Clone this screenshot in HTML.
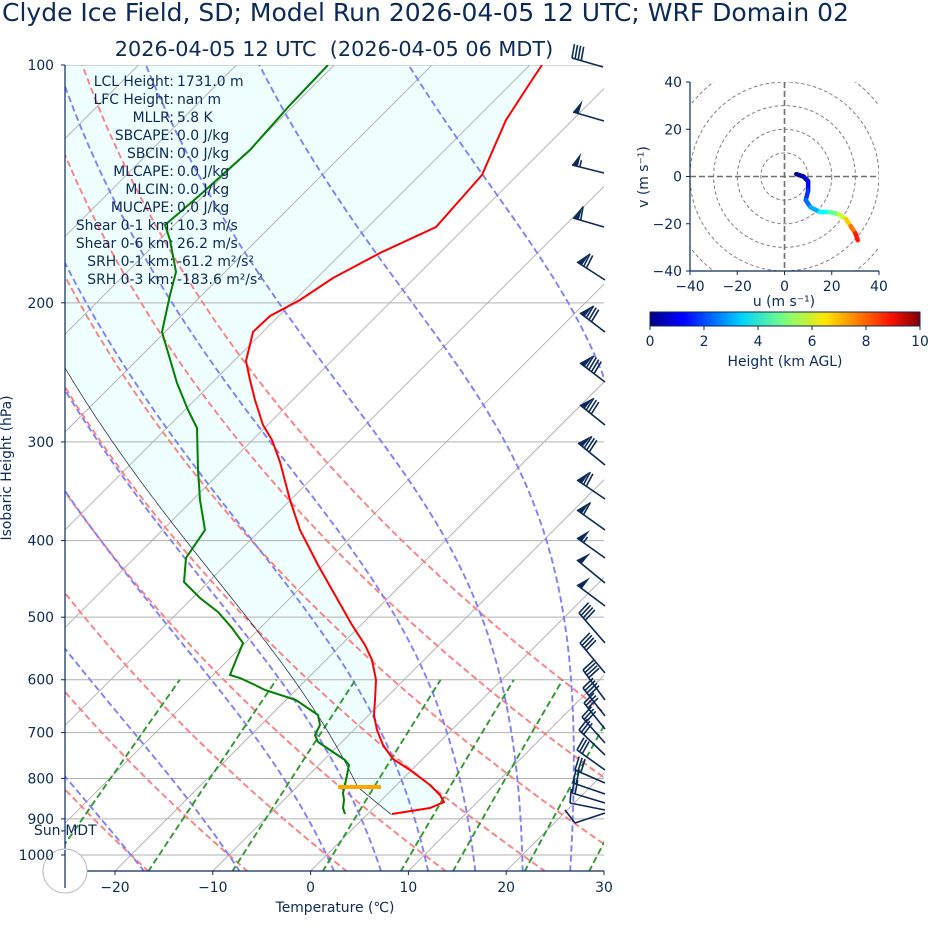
<!DOCTYPE html>
<html><head><meta charset="utf-8">
<style>
html,body{margin:0;padding:0;background:#fff;}
svg{display:block;font-family:"DejaVu Sans","Liberation Sans",sans-serif;}
</style></head>
<body>
<svg id="s" width="928" height="936" viewBox="0 0 928 936" xmlns="http://www.w3.org/2000/svg">
<defs>
<clipPath id="pc"><rect x="65" y="65" width="539" height="806"/></clipPath>
<clipPath id="hc"><rect x="690" y="82" width="189" height="189"/></clipPath>
<linearGradient id="jet" x1="0" x2="1" y1="0" y2="0">
<stop offset="0" stop-color="#00007f"/><stop offset="0.11" stop-color="#0000ff"/>
<stop offset="0.125" stop-color="#0000ff"/><stop offset="0.34" stop-color="#00d4ff"/>
<stop offset="0.5" stop-color="#7dff7a"/><stop offset="0.65" stop-color="#ffe600"/>
<stop offset="0.89" stop-color="#ff1300"/><stop offset="1" stop-color="#7f0000"/>
</linearGradient>
</defs>
<g id="plot" clip-path="url(#pc)"></g>
<g id="over"></g>
<text x="2" y="21" font-size="25" fill="#0b2a57">Clyde Ice Field, SD; Model Run 2026-04-05 12 UTC; WRF Domain 02</text>
<text x="334" y="56" font-size="20.8" fill="#0b2a57" text-anchor="middle" xml:space="preserve">2026-04-05 12 UTC  (2026-04-05 06 MDT)</text>
<g font-size="13.9" fill="#0b2a57">
<text x="335" y="912" text-anchor="middle">Temperature (℃)</text>
<text transform="translate(11,468) rotate(-90)" text-anchor="middle">Isobaric Height (hPa)</text>
<text x="34" y="835">Sun-MDT</text>
</g>
<g id="stats" font-size="13.9" fill="#0b2a57"></g>
<g id="hodo"></g>
</svg>
<script>
const NS="http://www.w3.org/2000/svg";const FS=13.9;
function el(p,t,a,txt){const e=document.createElementNS(NS,t);for(const k in a)e.setAttribute(k,a[k]);if(txt!==undefined)e.textContent=txt;p.appendChild(e);return e;}
const plot=document.getElementById('plot'),over=document.getElementById('over');
const Y=p=>65+790*Math.log10(p/100);
const X=(T,p)=>310.6+9.78*T+(871-Y(p));
function pl(g,pts,a){a.points=pts.map(q=>q[0].toFixed(1)+','+q[1].toFixed(1)).join(' ');a.fill=a.fill||'none';return el(g,'polyline',a);}
const Tpix=[[392,814],[430,808],[444,802],[440,795],[430,785],[410,770],[393,759],[383,745],[377,730],[374,715],[375,700],[376,680],[372,660],[365,645],[352,625],[335,595],[318,565],[300,530],[290,500],[280,462],[272,440],[263,425],[255,400],[250,380],[246,361],[253,332],[270,316],[300,300],[333,278],[380,253],[436,227],[482,175],[506,120],[530,83],[542,65]];
const Tdpix=[[345,814],[343,808],[344,800],[343,793],[346,780],[349,765],[345,760],[330,750],[318,742],[315,735],[320,725],[318,715],[296,700],[265,690],[255,685],[240,678],[230,675],[236,660],[243,643],[232,628],[218,612],[200,598],[184,582],[186,558],[205,530],[200,500],[198,470],[197,428],[188,410],[177,383],[162,332],[170,295],[176,272],[170,240],[165,225],[200,195],[250,150],[290,105],[328,65]];
function es(T){return 6.112*Math.exp(17.67*T/(T+243.5));}
function dTdp(T,p){const Tk=T+273.15,e=es(T),rs=0.622*e/(p-e);return (287.04*Tk+2.501e6*rs)/(p*(1005.7+2.501e6*2.501e6*rs*0.622/(287.04*Tk*Tk)));}
function moist(T0,p0,p1,step){const pts=[];let T=T0,p=p0;const dir=p1<p0?-1:1;while(dir*(p1-p)>0){pts.push([X(T,p),Y(p)]);const dp=dir*Math.min(step,Math.abs(p1-p));const k1=dTdp(T,p),k2=dTdp(T+k1*dp/2,p+dp/2);T+=k2*dp;p+=dp;}pts.push([X(T,p),Y(p)]);return pts;}
const parcel=[];
{const p0=889,T0=2.5,plcl=820;for(let p=p0;p>=plcl;p-=2){const T=(T0+273.15)*Math.pow(p/p0,0.2857)-273.15;parcel.push([X(T,p),Y(p)]);}
 const Tl=(T0+273.15)*Math.pow(plcl/p0,0.2857)-273.15;parcel.push(...moist(Tl,plcl,100,2));}
{const poly=Tpix.concat([[65,65]]).concat(parcel.slice().reverse());pl(plot,poly,{fill:'#effefe',stroke:'none'});}
for(let p=100;p<=1000;p+=100)el(plot,'line',{x1:65,x2:604,y1:Y(p),y2:Y(p),stroke:'#b0b0b0','stroke-width':1});
for(let T=-150;T<=50;T+=10)el(plot,'line',{x1:X(T,1050),y1:Y(1050),x2:X(T,100),y2:Y(100),stroke:'#b4b4b4','stroke-width':1});
const DA={'stroke-width':1.9,'stroke-dasharray':'6.5,3.5'};
for(let T0=-30;T0<=50;T0+=10){const pts=[];for(let p=1050;p>=100;p-=10){const T=(T0+273.15)*Math.pow(p/1000,0.2857)-273.15;pts.push([X(T,p),Y(p)]);}pl(plot,pts,Object.assign({stroke:'#ff8080'},DA));}
for(const T0 of [-50,-40,-30,-20,-10,0,5,10,15,20,25,30]){const up=moist(T0,1000,100,5),dn=moist(T0,1000,1050,5);pl(plot,dn.reverse().concat(up),Object.assign({stroke:'#8080ff'},DA));}
for(const w of [0.0004,0.001,0.002,0.004,0.007,0.01,0.016,0.024,0.032]){const pts=[];for(let p=1050;p>=600;p-=10){const e=p*w/(0.622+w),l=Math.log(e/6.112),Td=243.5*l/(17.67-l);pts.push([X(Td,p),Y(p)]);}pl(plot,pts,Object.assign({stroke:'#2e9a2e'},DA));}
pl(plot,parcel,{stroke:'#0b1f3a','stroke-width':0.7});
pl(plot,Tpix,{stroke:'#ff0000','stroke-width':2});
pl(plot,Tdpix,{stroke:'#008000','stroke-width':2});
el(plot,'line',{x1:338,x2:381,y1:787,y2:787,stroke:'#ffa500','stroke-width':4});
const C='#0b2a57';
function barb(bx,by,tx,ty,flags,full,half){
 const L=Math.hypot(tx-bx,ty-by),ux=(tx-bx)/L,uy=(ty-by)/L;let nx=-uy,ny=ux;if(ny>0){nx=-nx;ny=-ny;}
 el(over,'line',{x1:bx,y1:by,x2:tx,y2:ty,stroke:C,'stroke-width':1.6});
 let d=0;const bl=14,fw=6,sp=3.2;
 for(let i=0;i<flags;i++){const px=tx-ux*d,py=ty-uy*d;el(over,'polygon',{points:`${px},${py} ${px-ux*fw+nx*bl},${py-uy*fw+ny*bl} ${px-ux*fw},${py-uy*fw}`,fill:C});d+=fw+2;}
 for(let i=0;i<full;i++){const px=tx-ux*d,py=ty-uy*d;el(over,'line',{x1:px,y1:py,x2:px+nx*bl+ux*1.5,y2:py+ny*bl+uy*1.5,stroke:C,'stroke-width':1.6});d+=sp;}
 for(let i=0;i<half;i++){if(d===0)d=sp;const px=tx-ux*d,py=ty-uy*d;el(over,'line',{x1:px,y1:py,x2:px+nx*bl/2,y2:py+ny*bl/2,stroke:C,'stroke-width':1.6});d+=sp;}
}
const B=[[603,67,572,58,0,4,0],[604,121,573,112,1,0,0],[604,173,572,165,1,0,1],[604,227,573,218,1,1,0],[605,280,577,262,1,2,0],[605,332,580,313,1,3,0],[605,382,580,363,1,4,0],[605,425,580,405,1,3,0],[605,465,578,443,1,3,0],[605,499,577,480,1,2,0],[605,530,577,510,1,1,0],[605,558,577,538,1,0,1],[605,583,577,560,1,0,0],[605,606,577,585,1,0,0],[605,643,579,613,0,4,0],[605,673,580,643,0,4,0],
[605,700,583,670,0,4,0],[605,716,583,688,0,4,0],[605,729,584,703,0,3,0],[605,743,582,717,0,3,0],[605,755,579,730,0,3,0],[605,770,577,750,0,3,0],[605,783,575,770,0,3,0],[605,794,573,783,0,2,0],[605,803,572,793,0,2,0],[605,810,570,803,0,1,0],[605,813,575,823,0,0,0]];
for(const b of B)barb(...b);
el(over,'line',{x1:575,y1:823,x2:565,y2:810,stroke:C,'stroke-width':1.6});
el(over,'line',{x1:65,y1:65,x2:65,y2:888,stroke:C,'stroke-width':1.2});
el(over,'line',{x1:65,y1:871,x2:604,y2:871,stroke:C,'stroke-width':1.2});
el(over,'circle',{cx:65,cy:871,r:22,fill:'#fff',stroke:'#bbbbbb','stroke-width':1});
el(over,'line',{x1:65,y1:850,x2:65,y2:888,stroke:C,'stroke-width':1.2});
for(let p=100;p<=1000;p+=100){const y=Y(p);el(over,'line',{x1:61,x2:65,y1:y,y2:y,stroke:C,'stroke-width':1});el(over,'text',{x:54,y:y+5,'text-anchor':'end','font-size':FS,fill:C},String(p));}
for(let T=-20;T<=30;T+=10){const x=310.6+9.78*T;el(over,'line',{x1:x,x2:x,y1:871,y2:875,stroke:C,'stroke-width':1});el(over,'text',{x:x,y:892,'text-anchor':'middle','font-size':FS,fill:C},(T<0?'\u2212'+(-T):String(T)));}
const st=document.getElementById('stats');
const S=[['LCL Height:','1731.0 m'],['LFC Height:','nan m'],['MLLR:','5.8 K'],['SBCAPE:','0.0 J/kg'],['SBCIN:','0.0 J/kg'],['MLCAPE:','0.0 J/kg'],['MLCIN:','0.0 J/kg'],['MUCAPE:','0.0 J/kg'],['Shear 0-1 km:','10.3 m/s'],['Shear 0-6 km:','26.2 m/s'],['SRH 0-1 km:','-61.2 m²/s²'],['SRH 0-3 km:','-183.6 m²/s²']];
S.forEach((s,i)=>{const y=86+18*i;el(st,'text',{x:174,y:y,'text-anchor':'end'},s[0]);el(st,'text',{x:177,y:y},s[1]);});
const h=document.getElementById('hodo');const cx=784.5,cy=176.5,k=189/80;
const hg=el(h,'g',{'clip-path':'url(#hc)'});
for(let r=10;r<=60;r+=10)el(hg,'circle',{cx:cx,cy:cy,r:r*k,fill:'none',stroke:'#808080','stroke-width':1,'stroke-dasharray':'3.5,2.5'});
el(hg,'line',{x1:690,x2:879,y1:cy,y2:cy,stroke:'#707070','stroke-width':1.6,'stroke-dasharray':'6,3'});
el(hg,'line',{x1:cx,x2:cx,y1:82,y2:271,stroke:'#707070','stroke-width':1.6,'stroke-dasharray':'6,3'});
const H=[[5,1,0],[8,0,0.5],[10,-2,1],[10,-6,1.5],[9,-10,2],[11,-13,2.6],[15,-15,3.3],[19,-15,4.2],[23,-16,5.2],[26,-18,6.3],[28,-21,7.2],[30,-24,8],[31,-27,9]];
function jet(v){v=Math.max(0,Math.min(1,v));const r=Math.min(4*v-1.5,-4*v+4.5),g=Math.min(4*v-0.5,-4*v+3.5),b=Math.min(4*v+0.5,-4*v+2.5);const c=x=>Math.round(255*Math.max(0,Math.min(1,x)));return `rgb(${c(r)},${c(g)},${c(b)})`;}
for(let i=0;i<H.length-1;i++){const a=H[i],b=H[i+1];el(h,'line',{x1:cx+a[0]*k,y1:cy-a[1]*k,x2:cx+b[0]*k,y2:cy-b[1]*k,stroke:jet((a[2]+b[2])/20),'stroke-width':4.5,'stroke-linecap':'round'});}
el(h,'line',{x1:690,y1:82,x2:690,y2:271,stroke:C,'stroke-width':1.2});
el(h,'line',{x1:690,y1:271,x2:879,y2:271,stroke:C,'stroke-width':1.2});
for(const v of [-40,-20,0,20,40]){const x=cx+v*k,y=cy-v*k;const lab=v<0?'\u2212'+(-v):String(v);
 el(h,'line',{x1:x,x2:x,y1:271,y2:275,stroke:C});el(h,'text',{x:x,y:291,'text-anchor':'middle','font-size':FS,fill:C},lab);
 el(h,'line',{x1:686,x2:690,y1:y,y2:y,stroke:C});el(h,'text',{x:682,y:y+5,'text-anchor':'end','font-size':FS,fill:C},lab);}
el(h,'text',{x:784,y:306,'text-anchor':'middle','font-size':FS,fill:C},'u (m s⁻¹)');
el(h,'text',{transform:'translate(648,177) rotate(-90)','text-anchor':'middle','font-size':FS,fill:C},'v (m s⁻¹)');
el(h,'rect',{x:650,y:312,width:270,height:14,fill:'url(#jet)',stroke:C,'stroke-width':1});
for(let v=0;v<=10;v+=2){const x=650+27*v;el(h,'line',{x1:x,x2:x,y1:326,y2:330,stroke:C});el(h,'text',{x:x,y:346,'text-anchor':'middle','font-size':FS,fill:C},String(v));}
el(h,'text',{x:785,y:366,'text-anchor':'middle','font-size':FS,fill:C},'Height (km AGL)');
</script>
</body></html>
